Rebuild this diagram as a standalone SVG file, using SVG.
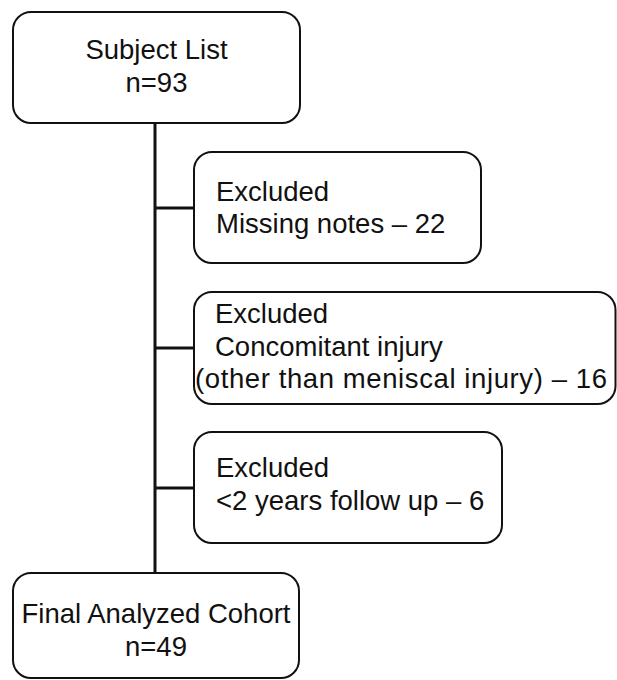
<svg xmlns="http://www.w3.org/2000/svg" width="617" height="680" viewBox="0 0 617 680">
<style>
.box{fill:#fff;stroke:#111;stroke-width:2}
.t{font-family:"Liberation Sans",Arial,sans-serif;font-size:27.5px;fill:#111}
.c{text-anchor:middle}
.ln{stroke:#111;stroke-width:3;fill:none}
</style>
<rect width="617" height="680" fill="#fff"/>
<g id="connectors">
<line class="ln" x1="155" y1="123" x2="155" y2="574"/>
<line class="ln" x1="155" y1="208" x2="194" y2="208"/>
<line class="ln" x1="155" y1="348" x2="194" y2="348"/>
<line class="ln" x1="155" y1="488" x2="194" y2="488"/>
</g>
<g id="subject">
<rect class="box" x="13" y="12" width="287" height="111" rx="18"/>
<text class="t c" x="156.5" y="59">Subject List</text>
<text class="t c" x="156.5" y="92">n=93</text>
</g>
<g id="excl1">
<rect class="box" x="194" y="152" width="287" height="111" rx="18"/>
<text class="t" x="216" y="201">Excluded</text>
<text class="t" x="216" y="233">Missing notes – 22</text>
</g>
<g id="excl2">
<rect class="box" x="194" y="292" width="421.5" height="112" rx="18"/>
<text class="t" x="215" y="323">Excluded</text>
<text class="t" x="215" y="356">Concomitant injury</text>
<text class="t" x="195" y="388" textLength="412" lengthAdjust="spacing">(other than meniscal injury) – 16</text>
</g>
<g id="excl3">
<rect class="box" x="194" y="432" width="308" height="111" rx="18"/>
<text class="t" x="216" y="477">Excluded</text>
<text class="t" x="216" y="510">&lt;2 years follow up – 6</text>
</g>
<g id="final">
<rect class="box" x="13" y="573" width="286" height="105" rx="18"/>
<text class="t c" x="156" y="623">Final Analyzed Cohort</text>
<text class="t c" x="156" y="656">n=49</text>
</g>
</svg>
